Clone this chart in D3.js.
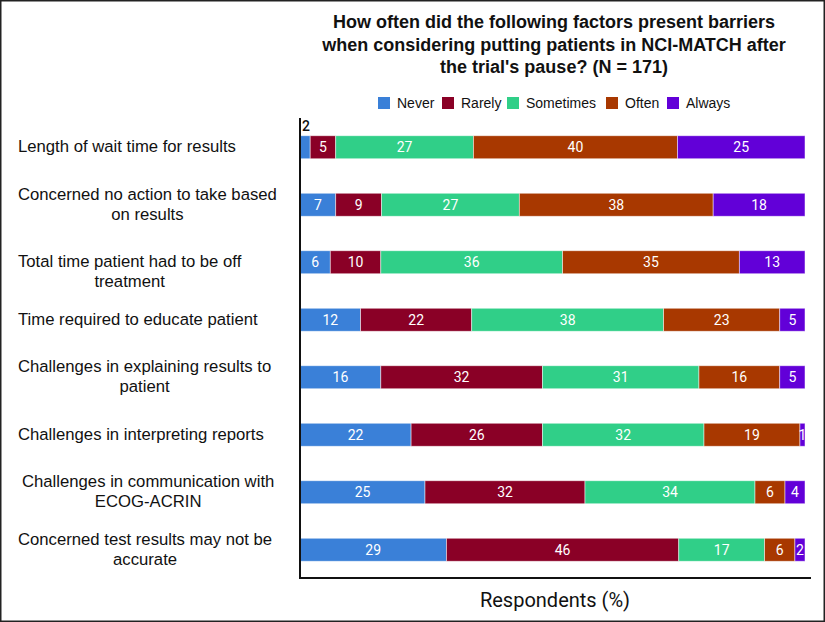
<!DOCTYPE html>
<html>
<head>
<meta charset="utf-8">
<script src="https://cdn.jsdelivr.net/npm/d3@7"></script>
<style>
  html, body { margin: 0; padding: 0; background: #fff; }
  svg { display: block; }
</style>
</head>
<body>
<svg id="chart" width="825" height="622"></svg>
<script>
// ---- data ----
const categories = [
  ["Length of wait time for results"],
  ["Concerned no action to take based", "on results"],
  ["Total time patient had to be off", "treatment"],
  ["Time required to educate patient"],
  ["Challenges in explaining results to", "patient"],
  ["Challenges in interpreting reports"],
  ["Challenges in communication with", "ECOG-ACRIN"],
  ["Concerned test results may not be", "accurate"]
];
const seriesNames = ["Never", "Rarely", "Sometimes", "Often", "Always"];
const never     = [2, 7, 6, 12, 16, 22, 25, 29];
const rarely    = [5, 9, 10, 22, 32, 26, 32, 46];
const sometimes = [27, 27, 36, 38, 31, 32, 34, 17];
const often     = [40, 38, 35, 23, 16, 19, 6, 6];
const always    = [25, 18, 13, 5, 5, 1, 4, 2];
const seriesColors = ["#3a80d8", "#8a0026", "#30cf88", "#a83800", "#6200d8"];
const titleLines = [
  "How often did the following factors present barriers",
  "when considering putting patients in NCI-MATCH after",
  "the trial's pause? (N = 171)"
];
const xAxisTitle = "Respondents (%)";

// ---- build ----
const svg = d3.select("#chart");
const W = 825, H = 622;

svg.append("rect").attr("x", 0.75).attr("y", 0.75).attr("width", W - 1.5).attr("height", H - 1.5)
  .attr("fill", "#fff").attr("stroke", "#222").attr("stroke-width", 1.5);

const seriesValues = [never, rarely, sometimes, often, always];
const keys = categories.map(c => c.join(" "));
const rows = keys.map((k, i) => {
  const o = { key: k, idx: i };
  const total = d3.sum(seriesValues, s => s[i]);
  seriesNames.forEach((s, j) => { o[s] = seriesValues[j][i] / total * 100; o[s + "_raw"] = seriesValues[j][i]; });
  return o;
});

const x = d3.scaleLinear().domain([0, 100]).range([300, 805]);
const y = d3.scaleBand().domain(keys).range([118.5, 578.5]).paddingInner(0.6).paddingOuter(0.3);
const color = d3.scaleOrdinal().domain(seriesNames).range(seriesColors);

const stacked = d3.stack().keys(seriesNames)(rows);

// title
const title = svg.append("text").attr("text-anchor", "middle")
  .style("font-family", "'Liberation Sans', Arial, sans-serif").style("font-weight", "bold")
  .style("font-size", "18px").attr("fill", "#111");
titleLines.forEach((t, i) => {
  title.append("tspan").attr("x", 554).attr("y", 28 + i * 22.5).text(t);
});

// legend
const legendX = [378, 442, 507, 606, 667];
const lg = svg.append("g");
seriesNames.forEach((s, i) => {
  const g = lg.append("g").attr("transform", `translate(${legendX[i]},97)`);
  g.append("rect").attr("width", 12).attr("height", 12).attr("fill", color(s));
  g.append("text").attr("x", 19).attr("y", 11)
    .style("font-family", "'Liberation Sans', Arial, sans-serif").style("font-size", "14px")
    .attr("fill", "#111").text(s);
});

// bars
const layer = svg.append("g").selectAll("g").data(stacked).join("g").attr("fill", d => color(d.key));
layer.selectAll("rect").data(d => d.map(v => ({ v, key: d.key }))).join("rect")
  .attr("x", d => x(d.v[0]))
  .attr("y", d => y(d.v.data.key))
  .attr("width", d => x(d.v[1]) - x(d.v[0]))
  .attr("height", y.bandwidth())
  .attr("stroke", "#fff").attr("stroke-opacity", 0.6).attr("stroke-width", 0.8);

// value labels
const labels = svg.append("g").style("font-family", "Roboto, sans-serif").style("font-size", "14px");
stacked.forEach((ser, j) => {
  ser.forEach(v => {
    const raw = v.data[ser.key + "_raw"];
    const cx = (x(v[0]) + x(v[1])) / 2;
    const cy = y(v.data.key) + y.bandwidth() / 2;
    const outside = (j === 0 && v.data.idx === 0);
    labels.append("text")
      .attr("x", outside ? x(v[0]) + 6 : cx)
      .attr("y", outside ? y(v.data.key) - 5 : cy + 5)
      .attr("text-anchor", "middle")
      .attr("fill", outside ? "#111" : "#fff")
      .style("font-weight", outside ? "500" : "400")
      .text(raw);
  });
});

// category labels
const catG = svg.append("g").style("font-family", "'Liberation Sans', Arial, sans-serif")
  .style("font-size", "16.7px").attr("fill", "#111");
categories.forEach((lines, i) => {
  const cy = y(keys[i]) + y.bandwidth() / 2;
  const t = catG.append("text").attr("text-anchor", "middle");
  const lh = 20;
  // the third label in the original sits with its first line level with the bar
  const y0 = (i === 2 ? cy : cy - (lines.length - 1) * lh / 2) + 5;
  lines.forEach((ln, k) => t.append("tspan").attr("y", y0 + k * lh).text(ln));
  let maxW = 0;
  t.selectAll("tspan").each(function () { maxW = Math.max(maxW, this.getComputedTextLength()); });
  const left = i === 6 ? 22 : 18;
  t.selectAll("tspan").attr("x", left + maxW / 2);
});

// axes lines
svg.append("line").attr("x1", x(0)).attr("x2", x(0)).attr("y1", 118).attr("y2", 579)
  .attr("stroke", "#111").attr("stroke-width", 2);
svg.append("line").attr("x1", x(0) - 1).attr("x2", 811).attr("y1", 578).attr("y2", 578)
  .attr("stroke", "#111").attr("stroke-width", 2);

// x axis title
svg.append("text").attr("x", 555).attr("y", 607).attr("text-anchor", "middle")
  .style("font-family", "Roboto, sans-serif").style("font-size", "20px").attr("fill", "#111")
  .text(xAxisTitle);
</script>
</body>
</html>
